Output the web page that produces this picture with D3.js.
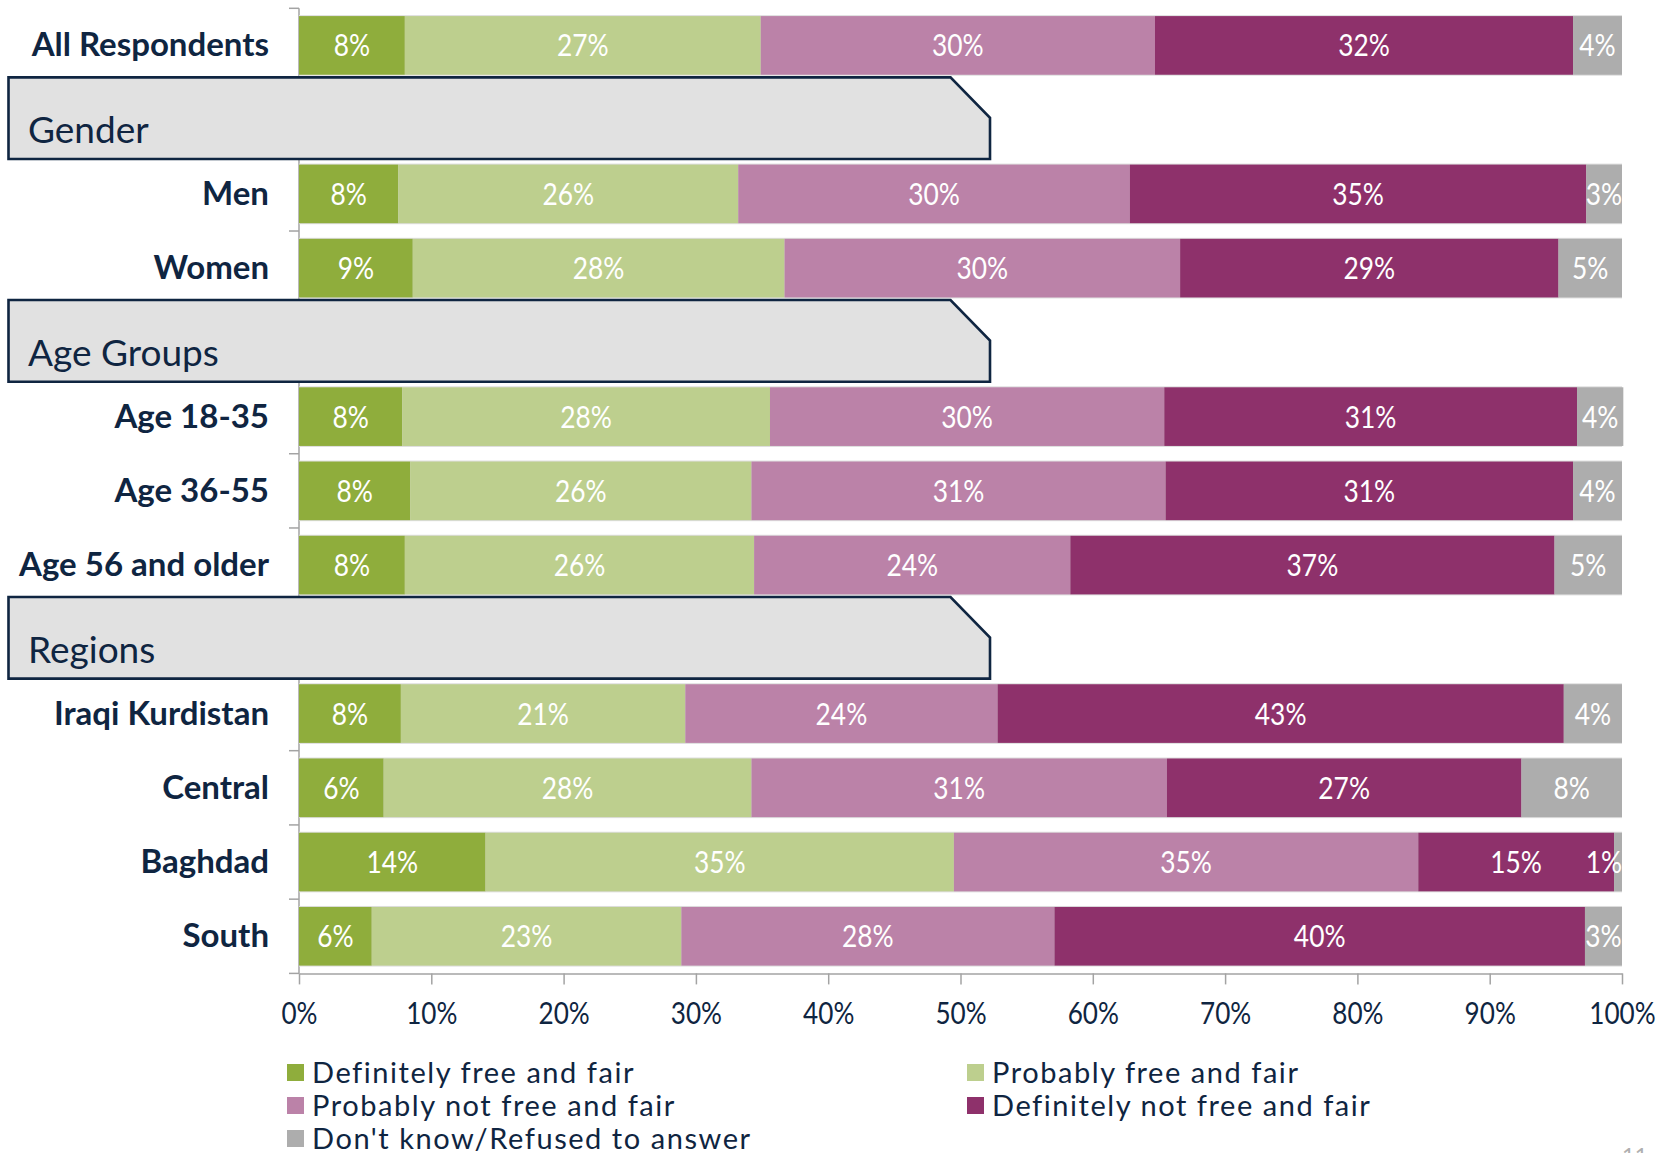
<!DOCTYPE html>
<html>
<head>
<meta charset="utf-8">
<script src="https://cdn.jsdelivr.net/npm/d3@7"></script>
<style>
  html, body { margin: 0; padding: 0; background: #ffffff; }
  svg { display: block; }
  text { font-family: Lato, "Open Sans", "DejaVu Sans", sans-serif; }
</style>
</head>
<body>
<svg id="chart" width="1675" height="1153"></svg>
<script>
// ---------------- DATA ----------------
const categories = ["All Respondents", "Gender", "Men", "Women", "Age Groups",
  "Age 18-35", "Age 36-55", "Age 56 and older", "Regions",
  "Iraqi Kurdistan", "Central", "Baghdad", "South"];
const headers = ["Gender", "Age Groups", "Regions"];
const barRows = ["All Respondents", "Men", "Women", "Age 18-35", "Age 36-55",
  "Age 56 and older", "Iraqi Kurdistan", "Central", "Baghdad", "South"];

const seriesNames = ["Definitely free and fair", "Probably free and fair",
  "Probably not free and fair", "Definitely not free and fair",
  "Don't know/Refused to answer"];

// values (percent)
const definitelyFree = [8.0, 7.5, 8.6, 7.8, 8.4, 8.0, 7.7, 6.4, 14.1, 5.5];
const probablyFree   = [26.9, 25.7, 28.1, 27.8, 25.8, 26.4, 21.5, 27.8, 35.4, 23.4];
const probablyNot    = [29.8, 29.6, 29.9, 29.8, 31.3, 23.9, 23.6, 31.4, 35.1, 28.2];
const definitelyNot  = [31.6, 34.5, 28.6, 31.2, 30.8, 36.6, 42.8, 26.8, 14.8, 40.1];
const dontKnow       = [3.7, 2.7, 4.8, 3.5, 3.7, 5.1, 4.4, 7.6, 0.6, 2.8];

// printed data labels
const labelsDefinitelyFree = [8, 8, 9, 8, 8, 8, 8, 6, 14, 6];
const labelsProbablyFree   = [27, 26, 28, 28, 26, 26, 21, 28, 35, 23];
const labelsProbablyNot    = [30, 30, 30, 30, 31, 24, 24, 31, 35, 28];
const labelsDefinitelyNot  = [32, 35, 29, 31, 31, 37, 43, 27, 15, 40];
const labelsDontKnow       = [4, 3, 5, 4, 4, 5, 4, 8, 1, 3];

const xTicks = [0, 10, 20, 30, 40, 50, 60, 70, 80, 90, 100];
const colors = ["#8fad3c", "#bdcf8e", "#bb82a8", "#8e316b", "#adadad"];

// ---------------- BUILD ----------------
const seriesValues = [definitelyFree, probablyFree, probablyNot, definitelyNot, dontKnow];
const seriesLabels = [labelsDefinitelyFree, labelsProbablyFree, labelsProbablyNot, labelsDefinitelyNot, labelsDontKnow];
const keys = ["s0", "s1", "s2", "s3", "s4"];
const table = barRows.map((name, i) => {
  const o = { name };
  keys.forEach((k, j) => { o[k] = seriesValues[j][i]; o["l" + j] = seriesLabels[j][i]; });
  return o;
});
const stacked = d3.stack().keys(keys)(table);

const navy = "#0f2541";
const svg = d3.select("#chart");

const x = d3.scaleLinear().domain([0, 100]).range([299, 1622]);
const y = d3.scaleBand().domain(categories).range([8.3, 973.4])
  .paddingInner(0.21).paddingOuter(0.105);
const bw = y.bandwidth();
const step = y.step();

// y axis line + category ticks
const axisColor = "#a3a3a3";
svg.append("line")
  .attr("x1", x(0)).attr("x2", x(0))
  .attr("y1", y.range()[0]).attr("y2", y.range()[1])
  .attr("stroke", axisColor).attr("stroke-width", 1.5);
d3.range(categories.length + 1).forEach(k => {
  const yy = y.range()[0] + k * step;
  svg.append("line")
    .attr("x1", x(0) - 10).attr("x2", x(0))
    .attr("y1", yy).attr("y2", yy)
    .attr("stroke", axisColor).attr("stroke-width", 1.5);
});

// bar outlines
svg.append("g").selectAll("rect").data(table).join("rect")
  .attr("x", x(0)).attr("width", x(100) - x(0))
  .attr("y", d => y(d.name) - 1).attr("height", bw + 2)
  .attr("fill", "#dedede");

// bars
const gBars = svg.append("g");
stacked.forEach((layer, j) => {
  gBars.append("g").attr("fill", colors[j])
    .selectAll("rect").data(layer).join("rect")
    .attr("x", d => x(d[0]))
    .attr("width", d => x(d[1]) - x(d[0]))
    .attr("y", d => y(d.data.name))
    .attr("height", bw);
});

// value labels
const valFont = 31, valScale = 0.85;
const gLab = svg.append("g");
stacked.forEach((layer, j) => {
  layer.forEach(d => {
    const txt = d.data["l" + j] + "%";
    const approxW = (txt.length - 1) * 0.58 * valFont * valScale + 0.8 * valFont * valScale;
    let cx = (x(d[0]) + x(d[1])) / 2;
    cx = Math.min(cx, x(100) - approxW / 2);
    const cy = y(d.data.name) + bw / 2 + 11;
    gLab.append("g")
      .attr("transform", `translate(${cx},${cy}) scale(${valScale},1)`)
      .append("text")
      .attr("text-anchor", "middle")
      .attr("fill", "#ffffff")
      .attr("font-size", valFont)
      .text(txt);
  });
});

// category labels
svg.append("g").selectAll("text").data(barRows).join("text")
  .attr("x", 269)
  .attr("y", d => y(d) + bw / 2 + 11)
  .attr("text-anchor", "end")
  .attr("font-size", 33)
  .attr("font-weight", "bold")
  .attr("fill", navy)
  .text(d => d);

// header boxes
const boxL = 8.5, boxR = 990, cutW = 39.5, cutH = 40.5;
const gHead = svg.append("g");
headers.forEach(h => {
  const top = y(h) - 13, bot = y(h) + bw + 10;
  const p = `M${boxL},${top} L${boxR - cutW},${top} L${boxR},${top + cutH} L${boxR},${bot} L${boxL},${bot} Z`;
  gHead.append("path").attr("d", p)
    .attr("fill", "#e1e1e1").attr("stroke", navy).attr("stroke-width", 2.6)
    .attr("stroke-linejoin", "miter");
  gHead.append("text")
    .attr("x", 28).attr("y", y(h) + 53)
    .attr("font-size", 37)
    .attr("fill", navy)
    .text(h);
});

// x axis
const xAxis = d3.axisBottom(x).tickValues(xTicks).tickSize(11).tickSizeOuter(0)
  .tickFormat(d => d + "%");
const gx = svg.append("g").attr("transform", `translate(0,${y.range()[1]})`).call(xAxis);
gx.select(".domain").attr("stroke", axisColor).attr("stroke-width", 1.5);
gx.selectAll(".tick line").attr("stroke", axisColor).attr("stroke-width", 1.5);
gx.selectAll(".tick text")
  .attr("font-size", 30)
  .attr("font-family", "Lato, 'Open Sans', sans-serif")
  .attr("fill", navy)
  .attr("dy", null)
  .attr("y", 51)
  .attr("transform", "scale(0.87,1)");

// legend
const legendItems = [
  { i: 0, col: 0, row: 0 }, { i: 1, col: 1, row: 0 },
  { i: 2, col: 0, row: 1 }, { i: 3, col: 1, row: 1 },
  { i: 4, col: 0, row: 2 }
];
const colX = [287, 967], rowY = [1064, 1097, 1130];
const gLeg = svg.append("g");
legendItems.forEach(it => {
  gLeg.append("rect")
    .attr("x", colX[it.col]).attr("y", rowY[it.row])
    .attr("width", 17).attr("height", 17)
    .attr("fill", colors[it.i]);
  gLeg.append("text")
    .attr("x", colX[it.col] + 25).attr("y", rowY[it.row] + 18.5)
    .attr("font-size", 29)
    .attr("letter-spacing", 1.55)
    .attr("fill", navy)
    .text(seriesNames[it.i]);
});

// page number (partly cut off)
svg.append("text").attr("x", 1622).attr("y", 1163)
  .attr("font-size", 22).attr("fill", "#b0b0b0").text("11");
</script>
</body>
</html>
